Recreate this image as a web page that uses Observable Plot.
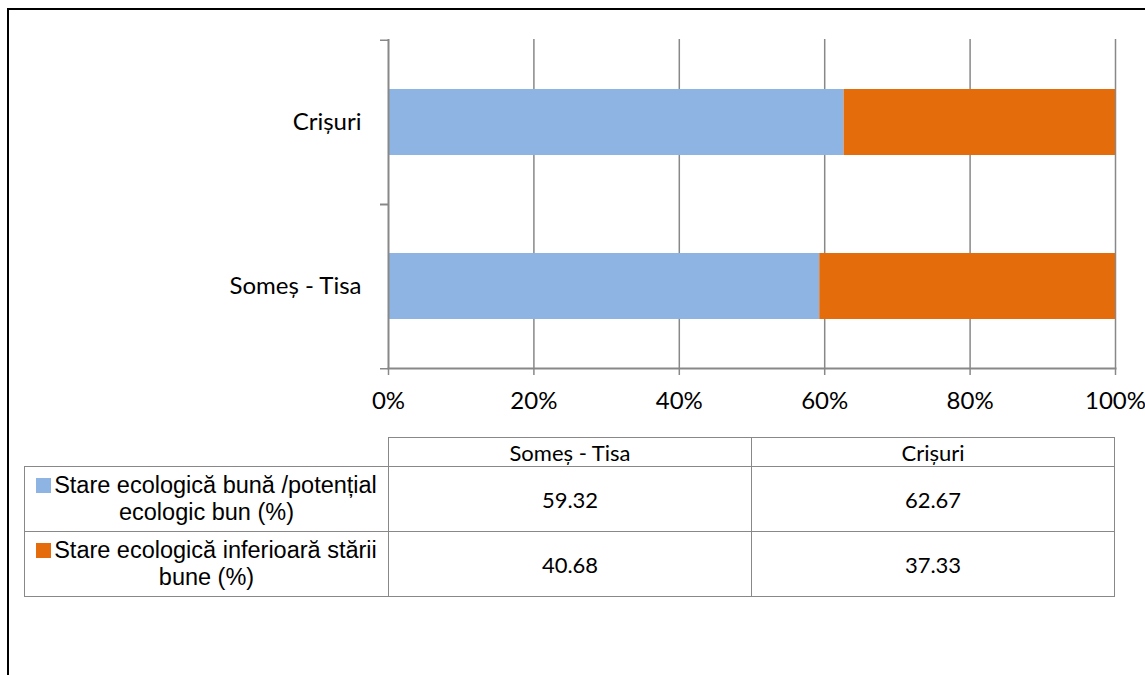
<!DOCTYPE html>
<html>
<head>
<meta charset="utf-8">
<script src="https://cdn.jsdelivr.net/npm/d3@7"></script>
<script src="https://cdn.jsdelivr.net/npm/@observablehq/plot@0.6"></script>
<style>
  html, body { margin: 0; padding: 0; background: #fff; overflow: hidden; }
  #wrap { position: relative; width: 1145px; height: 675px; }
  #border { position: absolute; left: 7px; top: 8px; width: 1200px; height: 700px; border-left: 2px solid #000; border-top: 2px solid #000; }
  #chart { position: absolute; left: 0; top: 0; }
  table { position: absolute; left: 24px; top: 437px; border-collapse: collapse; }
  td { border: 1.5px solid #888; text-align: center; padding: 0; color: #000; }
  td.blank { border: none; }
  td.head { height: 28px; font-family: Lato, "Open Sans", sans-serif; font-size: 22px; width: 362px; }
  td.val { height: 64px; font-family: Lato, "Open Sans", sans-serif; font-size: 22px; }
  td.leg { font-family: "Liberation Sans", Arial, sans-serif; font-size: 23.5px; line-height: 27px; width: 363px; white-space: nowrap; }
  .sw { display: inline-block; width: 15px; height: 15px; margin-right: 3px; vertical-align: 0px; }
</style>
</head>
<body>
<div id="wrap">
  <div id="border"></div>
  <div id="chart"></div>
</div>
<script>
const regions = ["Someș - Tisa", "Crișuri"];
const seriesNames = ["Stare ecologică bună /potențial ecologic bun (%)", "Stare ecologică inferioară stării bune (%)"];
const seriesLines = [["Stare ecologică bună /potențial", "ecologic bun (%)"], ["Stare ecologică inferioară stării", "bune (%)"]];
const goodValues = [59.32, 62.67];
const lowerValues = [40.68, 37.33];
const colors = ["#8EB4E3", "#E46C0A"];
const xTicks = [0, 20, 40, 60, 80, 100];

const data = [];
regions.forEach((r, i) => {
  data.push({region: r, series: seriesNames[0], value: goodValues[i]});
  data.push({region: r, series: seriesNames[1], value: lowerValues[i]});
});

const H = 420, mT = 39, mB = 52;
const step = (H - mT - mB) / regions.length;
const yDomain = regions.slice().reverse();

const plot = Plot.plot({
  width: 1145,
  height: H,
  marginLeft: 388,
  marginRight: 30,
  marginTop: mT,
  marginBottom: mB,
  style: {fontFamily: "Lato, 'Open Sans', sans-serif", background: "transparent"},
  x: {domain: [0, 100], axis: null, label: null},
  y: {domain: yDomain, paddingInner: 0.6, paddingOuter: 0.3, axis: null, label: null},
  color: {domain: seriesNames, range: colors},
  marks: [
    Plot.ruleX(xTicks.slice(1), {stroke: "#888", strokeWidth: 1.5}),
    Plot.barX(data, Plot.stackX({x: "value", y: "region", fill: "series", order: seriesNames})),
    Plot.ruleX([0], {stroke: "#888", strokeWidth: 2}),
    Plot.frame({anchor: "bottom", stroke: "#888", strokeWidth: 2}),
    Plot.axisX({ticks: xTicks, tickSize: 7, tickPadding: 16, tickFormat: d => d + "%", fontSize: 24, stroke: "#888", strokeWidth: 1.5, fill: "#000", label: null}),
    Plot.axisY({tickSize: 8, text: null, dy: -step / 2, stroke: "#888", strokeWidth: 1.5, label: null}),
    Plot.axisY({tickSize: 8, text: null, dy: step / 2, stroke: "#888", strokeWidth: 1.5, label: null}),
    Plot.axisY({tickSize: 0, tickPadding: 27, fontSize: 24, fill: "#000", label: null})
  ]
});
document.getElementById("chart").appendChild(plot);

// data table below the chart
const table = document.createElement("table");
const hr = table.insertRow();
const blank = hr.insertCell(); blank.className = "blank";
regions.forEach(r => { const c = hr.insertCell(); c.className = "head"; c.textContent = r; });
[goodValues, lowerValues].forEach((vals, si) => {
  const tr = table.insertRow();
  const lc = tr.insertCell(); lc.className = "leg";
  lc.innerHTML = `<span class="sw" style="background:${colors[si]}"></span>${seriesLines[si][0]}<br>${seriesLines[si][1]}`;
  vals.forEach(v => { const c = tr.insertCell(); c.className = "val"; c.textContent = v.toFixed(2); });
});
document.getElementById("wrap").appendChild(table);
</script>
</body>
</html>
